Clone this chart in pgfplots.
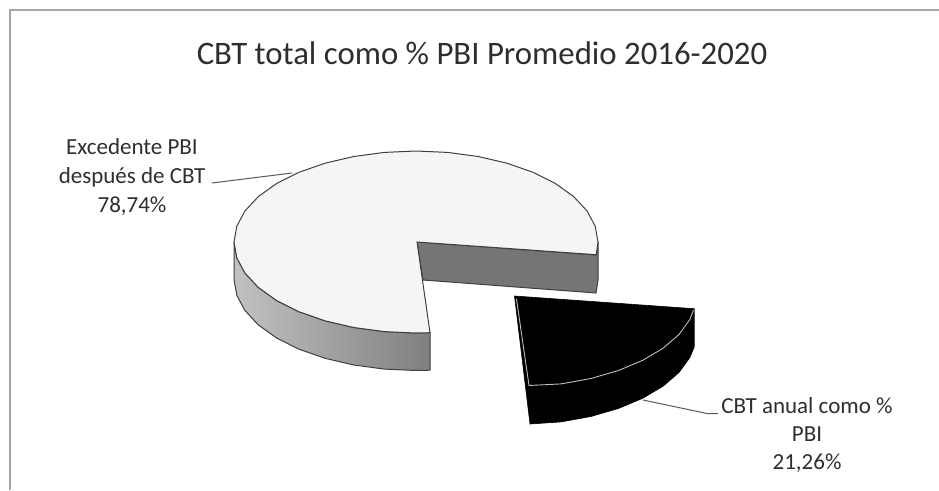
\documentclass[border=0pt]{standalone}
\usepackage{pgfplots}
\pgfplotsset{compat=1.18}
\usepackage{fontspec}
\setmainfont{Carlito}
\definecolor{txt}{HTML}{2E2E2E}
\definecolor{edge}{HTML}{404040}
\begin{document}
\begin{tikzpicture}[x=1pt,y=1pt]
\path[use as bounding box] (0,0) rectangle (939,490);
\begin{axis}[at={(0,0)},anchor=south west,scale only axis,width=939pt,height=490pt,
  xmin=0,xmax=939,ymin=0,ymax=490,y dir=reverse,hide axis,clip=false]
% chart frame
\addplot[color=black!35,line width=1.2pt,forget plot] coordinates {(10,490) (10,10) (939,10)};
% outer wall of the large slice
\addplot[left color=black!24,right color=black!50,draw=edge,line width=1pt,forget plot] coordinates {
(234,242)(236.8,257.8)(245,273.1)(258.4,287.5)(276.6,300.5)(299,311.7)(325,320.8)(353.8,327.5)(384.4,331.6)(416,333)(430,332.7)
(430,370.2)(416,370.5)(384.4,369.1)(353.8,365)(325,358.3)(299,349.2)(276.6,338)(258.4,325)(245,310.6)(236.8,295.3)(234,279.5)} -- cycle;
% inner cut wall
\addplot[fill=black!54,draw=edge,line width=1pt,forget plot] coordinates {
(417,242)(596,255)(598,242)(598,280)(596,293)(423,280)} -- cycle;
% top of large slice
\addplot[fill=black!4,draw=edge,line width=1pt,forget plot] coordinates {
(596.2,254.7)(598,242)(595.2,226.2)(587,210.9)(573.6,196.5)(555.4,183.5)(533,172.3)(507,163.2)(478.2,156.5)(447.6,152.4)
(416,151)(384.4,152.4)(353.8,156.5)(325,163.2)(299,172.3)(276.6,183.5)(258.4,196.5)(245,210.9)(236.8,226.2)(234,242)
(236.8,257.8)(245,273.1)(258.4,287.5)(276.6,300.5)(299,311.7)(325,320.8)(353.8,327.5)(384.4,331.6)(416,333)(430,332.7)
(417,242)} -- cycle;
% black slice
\addplot[fill=black,draw=black,line width=0.6pt,forget plot] coordinates {
(514.5,296)(694.2,308.7)(694.2,347)(689.8,357.6)(679,372.5)(663.1,386.2)(642.7,398.3)(618.4,408.5)(590.9,416.5)(561.1,421.9)(530,424)} -- cycle;
\addplot[color=black!25,line width=0.9pt,forget plot] coordinates {
(693.5,310)(689.8,319.6)(679,334.5)(663.1,348.2)(642.7,360.3)(618.4,370.5)(590.9,378.5)(561.1,383.9)(529,385.5)(516.5,299)};
% leader lines
\addplot[color=black!65,line width=1pt,forget plot] coordinates {(212,183)(292,173)};
\addplot[color=black!65,line width=1pt,forget plot] coordinates {(643,400)(707,413.5)(718,413.5)};
% texts
\node[text=txt,font=\fontsize{32.8}{36}\selectfont] at (axis cs:482,53) {CBT total como \% PBI Promedio 2016-2020};
\node[text=txt,align=center,font=\fontsize{23}{29}\selectfont] at (axis cs:132,177) {Excedente PBI\\después de CBT\\78,74\%};
\node[text=txt,align=center,font=\fontsize{23}{28}\selectfont] at (axis cs:807,435) {CBT anual como \%\\PBI\\21,26\%};
\end{axis}
\end{tikzpicture}
\end{document}
